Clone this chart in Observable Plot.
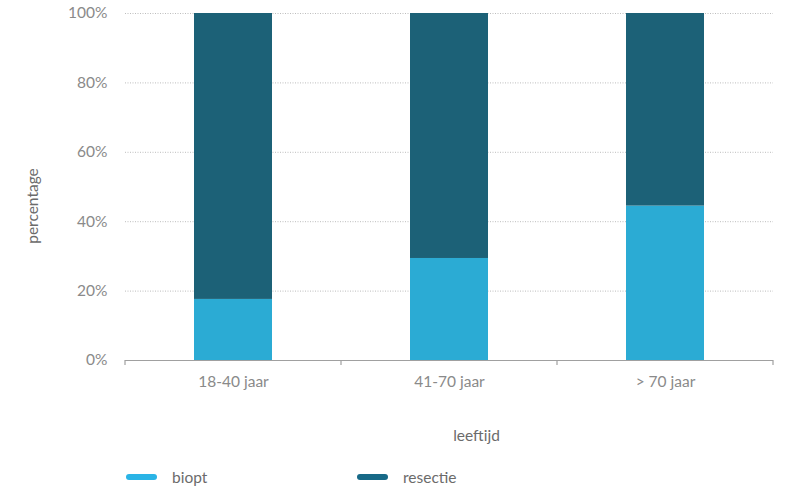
<!DOCTYPE html>
<html>
<head>
<meta charset="utf-8">
<script src="https://cdn.jsdelivr.net/npm/d3@7"></script>
<script src="https://cdn.jsdelivr.net/npm/@observablehq/plot@0.6"></script>
<style>
  html, body { margin: 0; padding: 0; background: #fff; }
  #wrap { position: relative; width: 786px; height: 491px; font-family: Lato, "Noto Sans", sans-serif; }
  #legend { position: absolute; left: 0; top: 466px; width: 786px; height: 22px; font-size: 15.5px; color: #6b6b6b; }
  .item { position: absolute; top: 0; display: flex; align-items: center; height: 22px; }
  .sw { width: 31px; height: 6px; border-radius: 3px; margin-right: 15px; }
</style>
</head>
<body>
<div id="wrap">
  <div id="chart"></div>
  <div id="legend"></div>
</div>
<script>
const categories = ["18-40 jaar", "41-70 jaar", "> 70 jaar"];
const series = ["biopt", "resectie"];
const biopt = [17.6, 29.4, 44.5];
const resectie = [82.4, 70.6, 55.5];
const colors = ["#2babd4", "#1c6177"];
const legendColors = ["#2ab4e6", "#176987"];
const yTicks = [0, 20, 40, 60, 80, 100];

const data = [];
categories.forEach((c, i) => {
  data.push({cat: c, serie: "biopt", value: biopt[i]});
  data.push({cat: c, serie: "resectie", value: resectie[i]});
});

const FS = 15.5;
const chart = Plot.plot({
  width: 786,
  height: 455,
  marginLeft: 125,
  marginRight: 13,
  marginTop: 13,
  marginBottom: 95,
  style: {fontFamily: "Lato, 'Noto Sans', sans-serif", fontSize: FS + "px", color: "#8a8a8a", background: "#fff"},
  x: {domain: categories, padding: 0},
  y: {domain: [0, 100]},
  color: {domain: series, range: colors},
  marks: [
    Plot.gridY(yTicks.filter(d => d > 0), {stroke: "#bdbdbd", strokeOpacity: 1, strokeDasharray: "1,1.5", strokeWidth: 1}),
    Plot.barY(data, {x: "cat", y: "value", fill: "serie", insetLeft: 69, insetRight: 69}),
    Plot.ruleY([0], {stroke: "#a0a0a0", strokeWidth: 1.2}),
    Plot.axisY({ticks: yTicks, tickFormat: d => d + "%", tickSize: 0, tickPadding: 18, label: null, fill: "#8a8a8a", fontSize: FS}),
    Plot.axisX({tickSize: 0, tickPadding: 15, label: null, fill: "#8a8a8a", fontSize: FS}),
    Plot.text(["leeftijd"], {frameAnchor: "bottom", textAnchor: "middle", dy: 80, dx: 27, fill: "#6b6b6b", fontSize: FS}),
    Plot.text(["percentage"], {frameAnchor: "left", textAnchor: "middle", rotate: -90, dx: -92, dy: 19, fill: "#6b6b6b", fontSize: FS})
  ]
});
document.getElementById("chart").appendChild(chart);

// boundary ticks on the x axis, positioned with the chart's own x scale
const xs = chart.scale("x");
const bw = xs.bandwidth;
const y0 = chart.scale("y").apply(0);
const edges = categories.map(c => xs.apply(c)).concat([xs.apply(categories[categories.length - 1]) + bw]);
const svg = d3.select(chart);
svg.append("g").selectAll("line").data(edges).join("line")
  .attr("x1", d => d).attr("x2", d => d)
  .attr("y1", y0).attr("y2", y0 + 5)
  .attr("stroke", "#a0a0a0").attr("stroke-width", 1.2);

// legend
const legend = document.getElementById("legend");
const lx = [126, 357];
series.forEach((s, i) => {
  const it = document.createElement("div");
  it.className = "item";
  it.style.left = lx[i] + "px";
  it.innerHTML = `<div class="sw" style="background:${legendColors[i]}"></div><span>${s}</span>`;
  legend.appendChild(it);
});
</script>
</body>
</html>
